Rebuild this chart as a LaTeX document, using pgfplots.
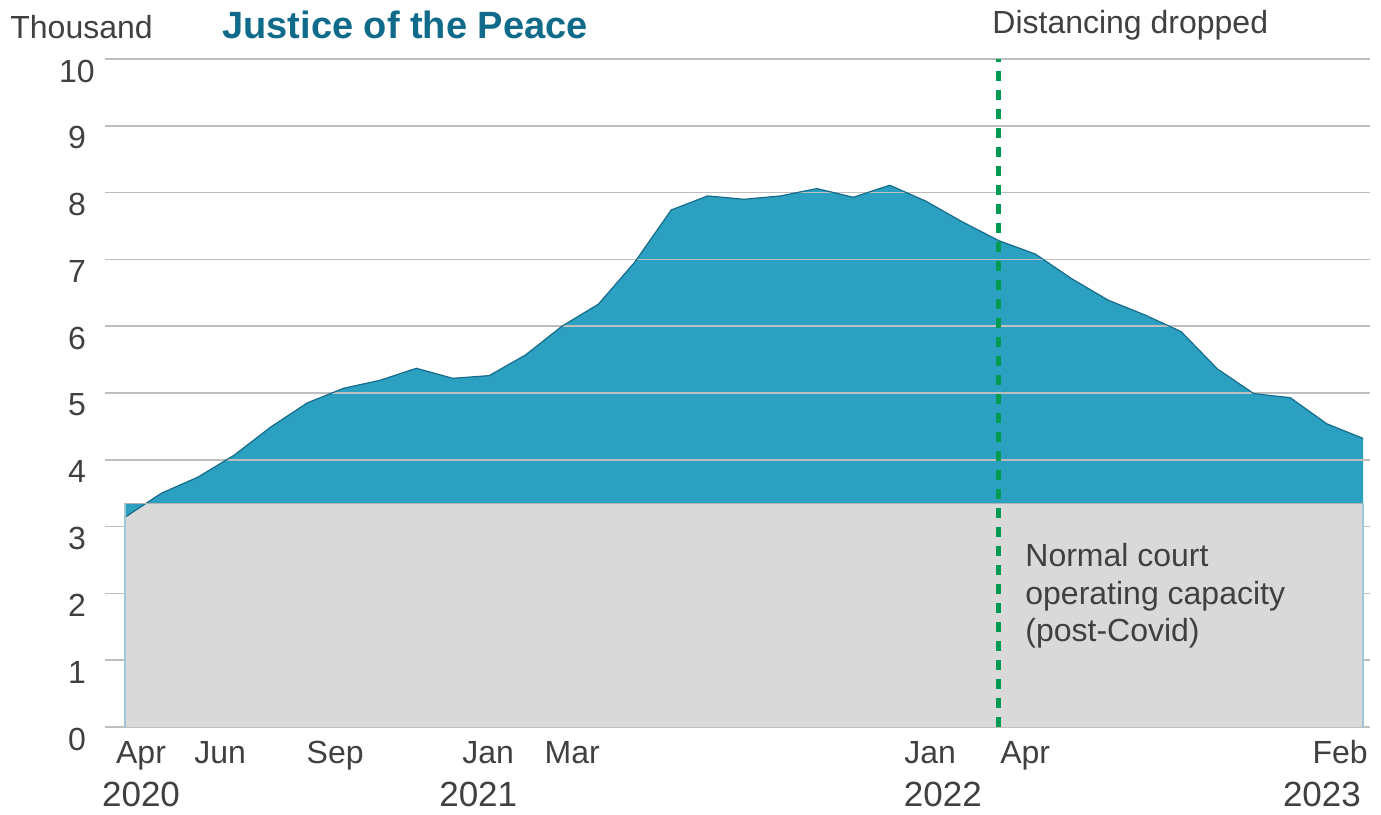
\documentclass[border=0pt]{standalone}
\usepackage{fontspec}
\setmainfont{Liberation Sans}
\usepackage{pgfplots}
\pgfplotsset{compat=1.18}
\usepgfplotslibrary{fillbetween}
\usepackage{pgfplotstable}

\definecolor{jpblue}{RGB}{43,160,193}
\definecolor{jpedge}{RGB}{22,108,138}
\definecolor{jptitle}{RGB}{16,106,138}
\definecolor{capgray}{RGB}{217,217,217}
\definecolor{capedge}{RGB}{178,178,178}
\definecolor{capside}{RGB}{160,200,212}
\definecolor{gridgray}{RGB}{190,190,190}
\definecolor{txt}{RGB}{64,64,64}
\definecolor{distgreen}{RGB}{0,155,80}

% outstanding cases, thousands, monthly from Apr 2020 (0) to Feb 2023 (34)
\pgfplotstableread{
m v
0  3.14
1  3.50
2  3.74
3  4.07
4  4.49
5  4.85
6  5.07
7  5.19
8  5.37
9  5.22
10 5.26
11 5.57
12 6.00
13 6.33
14 6.96
15 7.74
16 7.95
17 7.90
18 7.95
19 8.06
20 7.93
21 8.11
22 7.87
23 7.56
24 7.28
25 7.08
26 6.71
27 6.39
28 6.17
29 5.92
30 5.36
31 4.99
32 4.93
33 4.54
34 4.32
}\jp

\begin{document}
\begin{tikzpicture}[font=\fontsize{16}{19}\selectfont, text=txt]
\begin{axis}[
    set layers,
    scale only axis,
    width=632.5pt, height=334pt,
    xmin=-0.55, xmax=34.19,
    ymin=0, ymax=10,
    axis line style={draw=none},
    tick style={draw=none},
    ymajorgrids,
    grid style={gridgray, line width=0.75pt},
    ytick={0,1,...,10},
    yticklabel style={anchor=center, xshift=-14pt, yshift=-6pt},
    xtick={0.44,2.61,5.77,9.97,12.28,22.11,24.72,33.37},
    xticklabels={Apr,Jun,Sep,Jan,Mar,Jan,Apr,Feb},
    xticklabel style={anchor=base, yshift=-18pt},
    extra x ticks={0.44,9.70,22.46,32.87},
    extra x tick labels={2020,2021,2022,2023},
    extra x tick style={xticklabel style={yshift=-21.5pt, font=\fontsize{17.5}{20}\selectfont}},
    /pgf/number format/assume math mode=true,
    clip=false,
]
% capacity band (background)
\addplot[draw=none, fill=capgray, on layer=axis background]
    coordinates {(0,3.35) (34,3.35)} \closedcycle;
% cases above capacity
\addplot[name path=cases, jpedge, line width=0.6pt] table {\jp};
\addplot[name path=cap, draw=none] coordinates {(0,3.35) (34,3.35)};
\addplot[jpblue] fill between[of=cases and cap, on layer=axis background];
\addplot[capedge, line width=0.7pt] coordinates {(0,3.35) (34,3.35)};
% gray over the lower grid lines
\addplot[draw=none, fill=capgray] coordinates {(0,3.12) (34,3.12)} \closedcycle;
\addplot[capside, line width=0.6pt] coordinates {(0,0) (0,3.35)};
\addplot[capside, line width=0.6pt] coordinates {(34,0) (34,3.35)};
% distancing dropped, Apr 2022
\addplot[distgreen, line width=2.5pt, dash pattern=on 5pt off 4.5pt]
    coordinates {(24,0) (24,10)};
\end{axis}
\node[anchor=base west, inner sep=0] at (-47.5pt,344pt) {Thousand};
\node[anchor=base west, inner sep=0, text=jptitle, font=\bfseries\fontsize{19}{22}\selectfont]
    at (58.5pt,344pt) {Justice of the Peace};
\node[anchor=base west, inner sep=0] at (443.5pt,346.5pt) {Distancing dropped};
\node[anchor=base west, inner sep=0] at (460pt,80.5pt) {Normal court};
\node[anchor=base west, inner sep=0] at (460pt,61.5pt) {operating capacity};
\node[anchor=base west, inner sep=0] at (460pt,43pt) {(post-Covid)};
\pgfresetboundingbox
\path[use as bounding box] (-52.5pt,-43.5pt) rectangle (638pt,363.5pt);
\end{tikzpicture}
\end{document}
